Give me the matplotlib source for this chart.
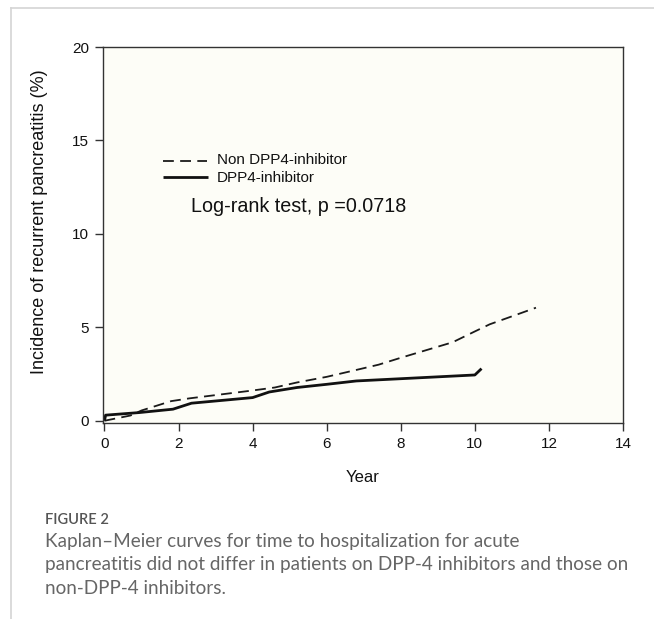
import matplotlib
matplotlib.use("Agg")
import matplotlib.pyplot as plt
from matplotlib.lines import Line2D

# ---- data ----
non_dpp4_years = [0.0, 0.7, 1.0, 1.4, 1.8, 2.3, 4.0, 4.6, 5.2, 6.0, 6.8, 7.4, 8.0, 9.4, 10.0, 10.4, 11.65]
non_dpp4_inc   = [0.0, 0.28, 0.55, 0.8, 1.05, 1.2, 1.62, 1.78, 2.05, 2.35, 2.72, 3.0, 3.37, 4.2, 4.78, 5.16, 6.05]

dpp4_years = [0.0, 0.03, 0.95, 1.85, 2.35, 4.0, 4.45, 5.2, 6.0, 6.8, 10.0, 10.18]
dpp4_inc   = [0.0, 0.30, 0.44, 0.62, 0.94, 1.24, 1.54, 1.78, 1.95, 2.13, 2.45, 2.79]

x_ticks = [0, 2, 4, 6, 8, 10, 12, 14]
y_ticks = [0, 5, 10, 15, 20]
series_labels = ["Non DPP4-inhibitor", "DPP4-inhibitor"]
stat_text = "Log-rank test, p =0.0718"
x_label = "Year"
y_label = "Incidence of recurrent pancreatitis (%)"
fig_label = "FIGURE 2"
caption_lines = [
    "Kaplan\u2013Meier curves for time to hospitalization for acute",
    "pancreatitis did not differ in patients on DPP-4 inhibitors and those on",
    "non-DPP-4 inhibitors.",
]

W, H = 654, 619
plt.rcParams["font.family"] = ["Liberation Sans", "DejaVu Sans"]
fig = plt.figure(figsize=(W / 100, H / 100), dpi=100)
fig.patch.set_facecolor("white")


def fx(px):
    return px / W


def fy(py):
    return 1 - py / H


# outer light frame (top and left)
fig.add_artist(Line2D([fx(11), 1.0], [fy(7.5), fy(7.5)], color="#d4d4d4", lw=1.2))
fig.add_artist(Line2D([fx(11), fx(11)], [0, fy(7.5)], color="#d4d4d4", lw=1.2))

ax = fig.add_axes([fx(103), fy(423), (623 - 103) / W, (423 - 47) / H])
ax.set_facecolor("#fdfdf7")

dash_style = (0, (6, 3.5))
ax.plot(non_dpp4_years, non_dpp4_inc, color="#1a1a1a", lw=1.3, ls=dash_style)
ax.plot(dpp4_years, dpp4_inc, color="#111111", lw=2.0, solid_capstyle="butt")

ax.set_xlim(-0.04, 14)
ax.set_ylim(-0.12, 20)
ax.set_xticks(x_ticks)
ax.set_yticks(y_ticks)
ax.tick_params(direction="out", length=6, width=1, color="#333333",
               labelsize=11, labelcolor="#111111", pad=4)
for s in ax.spines.values():
    s.set_color("#333333")
    s.set_linewidth(1.0)

ax.set_xlabel(x_label, fontsize=12, color="#111111", labelpad=14)
ax.set_ylabel(y_label, fontsize=13, color="#111111")
ax.yaxis.set_label_coords(-0.105, 0.535)

# legend drawn at figure pixel positions (handles + labels)
fig.add_artist(Line2D([fx(163), fx(207)], [fy(160.5), fy(160.5)], color="#1a1a1a",
                      lw=1.3, ls=dash_style))
fig.add_artist(Line2D([fx(163), fx(208)], [fy(177), fy(177)], color="#111111",
                      lw=2.0, solid_capstyle="butt"))
fig.text(fx(217), fy(160), series_labels[0], fontsize=11, color="#111111",
         ha="left", va="center")
fig.text(fx(217), fy(177.5), series_labels[1], fontsize=11, color="#111111",
         ha="left", va="center")

fig.text(fx(191), fy(207), stat_text, fontsize=14.2, color="#111111",
         ha="left", va="center")

# caption
fig.text(fx(45), fy(524), fig_label, fontsize=10.5, color="#555555",
         family=["Lato", "DejaVu Sans"], weight="semibold", ha="left", va="baseline")
for i, line in enumerate(caption_lines):
    fig.text(fx(45), fy(546.7 + 23.7 * i), line, fontsize=13.6, color="#666666",
             family=["Lato", "DejaVu Sans"], weight="normal", ha="left", va="baseline")

fig.savefig("out.png", dpi=100)
